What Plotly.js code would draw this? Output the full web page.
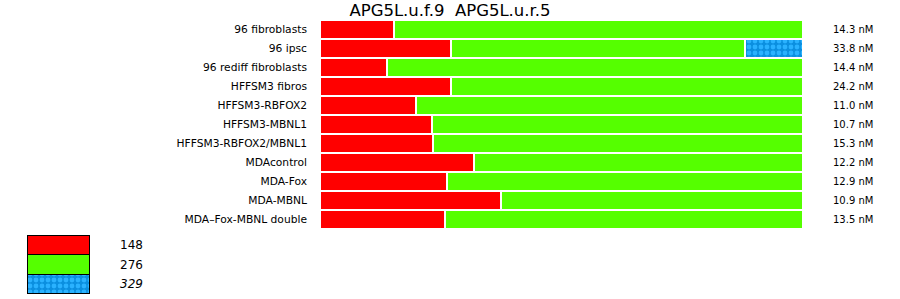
<!DOCTYPE html>
<html><head><meta charset="utf-8">
<script src="https://cdn.plot.ly/plotly-3.0.1.min.js"></script>
<style>html,body{margin:0;padding:0;background:#fff;}#chart{width:900px;height:299px;}</style>
</head><body><div id="chart"></div>
<script>
const samples = ["96 fibroblasts","96 ipsc","96 rediff fibroblasts","HFFSM3 fibros","HFFSM3-RBFOX2","HFFSM3-MBNL1","HFFSM3-RBFOX2/MBNL1","MDAcontrol","MDA-Fox","MDA-MBNL","MDA\u2013Fox-MBNL double"];
const seriesNames = ["148","276","329"];
const pct148 = [15.3, 27.1, 13.9, 27.1, 19.9, 23.2, 23.4, 31.9, 26.3, 37.5, 25.9];
const pct276 = [84.7, 60.9, 86.1, 72.9, 80.1, 76.8, 76.6, 68.1, 73.7, 62.5, 74.1];
const pct329 = [null, 12.0, null, null, null, null, null, null, null, null, null];
const conc = ["14.3","33.8","14.4","24.2","11.0","10.7","15.3","12.2","12.9","10.9","13.5"];
const title = "APG5L.u.f.9&nbsp;&nbsp;APG5L.u.r.5";

const colors = ["#ff0000","#55ff00","#0a8fe0"];
const font = "DejaVu Sans, sans-serif";
const W = 900, H = 299;
const px = v => v / W, py = v => 1 - v / H;
const pattern = {shape: ".", bgcolor: "#0a8fe0", fgcolor: "#2ab2ff", size: 6, solidity: 0.5, fillmode: "replace"};

const vals = [pct148, pct276, pct329];
const traces = vals.map((v, i) => {
  const t = {
    type: "bar", orientation: "h", x: v, y: samples, name: seriesNames[i],
    xaxis: "x", yaxis: "y", hoverinfo: "skip",
    marker: {color: colors[i], line: {color: "#ffffff", width: 2}}
  };
  if (i === 2) t.marker.pattern = pattern;
  return t;
});
// legend swatches (one bar per series on a small side subplot)
seriesNames.forEach((n, i) => {
  const t = {
    type: "bar", orientation: "h", x: [1], y: [i], width: [1], base: [0],
    xaxis: "x2", yaxis: "y2", name: n,
    hoverinfo: "skip", cliponaxis: false, showlegend: false,
    marker: {color: colors[i], line: {color: "#000000", width: 1.5}}
  };
  if (i === 2) t.marker.pattern = pattern;
  traces.push(t);
});

const annotations = [];
samples.forEach((s, i) => {
  annotations.push({xref: "paper", yref: "y", x: px(831), y: s, xanchor: "left", yanchor: "middle",
    text: conc[i] + " nM", showarrow: false, font: {family: font, size: 10, color: "#000"}});
});
seriesNames.forEach((n, i) => {
  annotations.push({xref: "paper", yref: "y2", x: px(118), y: i, xanchor: "left", yanchor: "middle",
    text: i === 2 ? "<i>" + n + "</i>" : n, showarrow: false, font: {family: font, size: 12, color: "#000"}});
});

const layout = {
  width: W, height: H, margin: {l: 0, r: 0, t: 0, b: 0},
  paper_bgcolor: "#fff", plot_bgcolor: "#fff",
  barmode: "stack", bargap: 0, showlegend: false,
  title: {text: title, x: 0.5, xanchor: "center", y: py(10.5), yanchor: "middle", font: {family: font, size: 16.5, color: "#000"}},
  xaxis: {domain: [px(320), px(803)], range: [0, 100], visible: false, fixedrange: true},
  yaxis: {domain: [py(229), py(20)], type: "category", autorange: "reversed", showgrid: false, zeroline: false, showline: false,
    ticks: "", ticklabelstandoff: 12, tickfont: {family: font, size: 10.7, color: "#000"}},
  xaxis2: {domain: [px(27), px(90)], type: "linear", range: [0, 1], autorange: false, visible: false, anchor: "y2"},
  yaxis2: {domain: [py(294), py(235)], type: "linear", range: [2.5, -0.5], autorange: false, visible: false, anchor: "x2"},
  annotations: annotations
};
Plotly.newPlot("chart", traces, layout, {displayModeBar: false, staticPlot: true});
</script></body></html>
